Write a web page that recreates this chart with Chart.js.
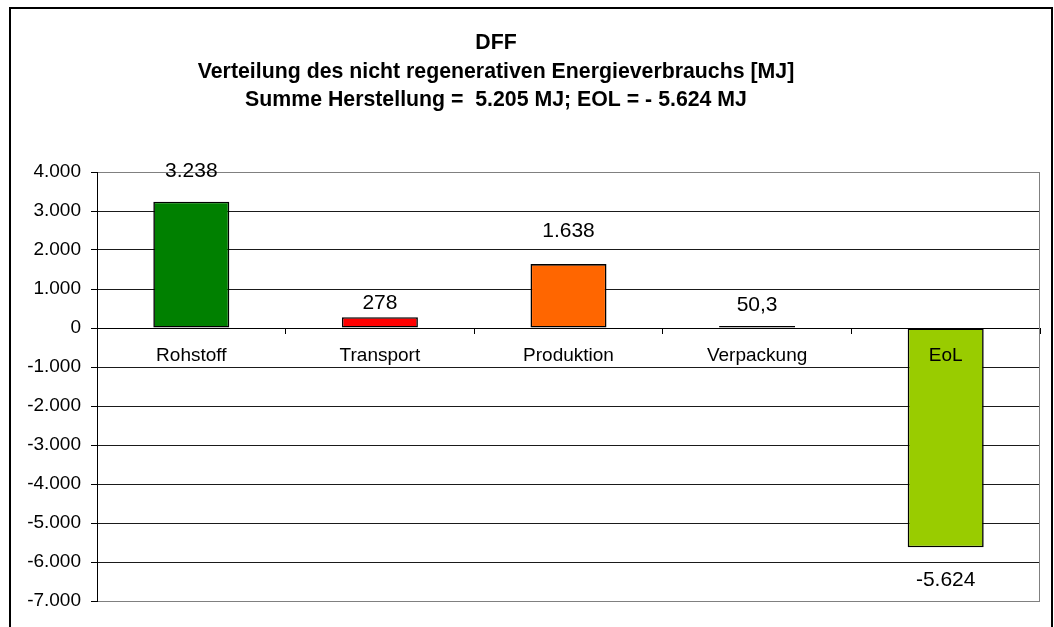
<!DOCTYPE html>
<html><head><meta charset="utf-8">
<script src="https://cdn.jsdelivr.net/npm/chart.js@4/dist/chart.umd.min.js"></script>
<style>html,body{margin:0;padding:0;background:#fff}#wrap{width:1054px;height:627px;position:relative}</style>
</head><body><div id="wrap"><canvas id="c" width="1054" height="627"></canvas></div>
<script>
const categories = ['Rohstoff', 'Transport', 'Produktion', 'Verpackung', 'EoL'];
const values = [3238, 278, 1638, 50.3, -5624];
const titleLines = [
  'DFF',
  'Verteilung des nicht regenerativen Energieverbrauchs [MJ]',
  'Summe Herstellung =  5.205 MJ; EOL = - 5.624 MJ'
];
const yMin = -7000, yMax = 4000, yStep = 1000;
const barColors = ['#008000', '#FF0000', '#FF6600', '#333399', '#99CC00'];

const FONT = '"Liberation Sans", Arial, sans-serif';

function fmtDE(v) {
  const neg = v < 0;
  let a = Math.abs(v);
  let intPart, dec = '';
  if (Number.isInteger(a)) { intPart = String(a); }
  else { const s = a.toFixed(1).split('.'); intPart = s[0]; dec = ',' + s[1]; }
  intPart = intPart.replace(/\B(?=(\d{3})+(?!\d))/g, '.');
  return (neg ? '-' : '') + intPart + dec;
}

const labelOffsets = [31, 14, 33, 21, 33];

const framePlugin = {
  id: 'frame',
  beforeDraw(chart) {
    const ctx = chart.ctx;
    ctx.save();
    ctx.fillStyle = '#fff';
    ctx.fillRect(0, 0, chart.width, chart.height);
    ctx.strokeStyle = '#000';
    ctx.lineWidth = 2;
    ctx.strokeRect(10, 8, 1042, 640);
    ctx.restore();
  },
  afterDraw(chart) {
    const ctx = chart.ctx;
    const ca = chart.chartArea;
    ctx.save();
    ctx.strokeStyle = '#808080';
    ctx.lineWidth = 1;
    ctx.beginPath();
    ctx.moveTo(ca.right - 0.5, ca.top);
    ctx.lineTo(ca.right - 0.5, ca.bottom);
    ctx.stroke();
    ctx.fillStyle = '#000';
    ctx.textAlign = 'center';
    ctx.textBaseline = 'middle';
    ctx.font = 'bold 21.3px ' + FONT;
    const ty = [43, 72, 100];
    titleLines.forEach((t, i) => ctx.fillText(t, 496, ty[i]));
    ctx.font = '21px ' + FONT;
    const meta = chart.getDatasetMeta(0);
    meta.data.forEach((bar, i) => {
      const v = values[i];
      const off = labelOffsets[i];
      const y = v >= 0 ? bar.y - off : bar.y + off;
      ctx.fillText(fmtDE(v), bar.x, y);
    });
    ctx.restore();
  }
};

new Chart(document.getElementById('c'), {
  type: 'bar',
  data: {
    labels: categories,
    datasets: [{
      data: values,
      backgroundColor: barColors,
      borderColor: '#000',
      borderWidth: 1.6,
      borderSkipped: false,
      barPercentage: 0.403,
      categoryPercentage: 1
    }]
  },
  options: {
    responsive: false,
    animation: false,
    layout: { padding: { top: 172, right: 14, bottom: 26, left: 0 } },
    plugins: { legend: { display: false }, title: { display: false }, tooltip: { enabled: false } },
    scales: {
      x: {
        position: { y: 0 },
        offset: true,
        grid: { display: true, drawOnChartArea: false, drawTicks: true, tickLength: 5, color: '#000', offset: true, z: 1 },
        border: { display: true, color: '#000', width: 1, z: 1 },
        ticks: { color: '#000', font: { family: FONT, size: 19 }, padding: 11, maxRotation: 0, autoSkip: false, z: 1 }
      },
      y: {
        min: yMin, max: yMax,
        ticks: { stepSize: yStep, color: '#000', font: { family: FONT, size: 19 }, padding: 10, callback: v => fmtDE(v) },
        grid: {
          color: ctx => (ctx.tick && (ctx.tick.value === yMin || ctx.tick.value === yMax)) ? '#808080' : '#1a1a1a',
          tickColor: '#000', tickLength: 6, lineWidth: 1
        },
        border: { color: '#000', width: 1 },
        afterFit: s => { s.width = 97; }
      }
    }
  },
  plugins: [framePlugin]
});
</script>
</body></html>
